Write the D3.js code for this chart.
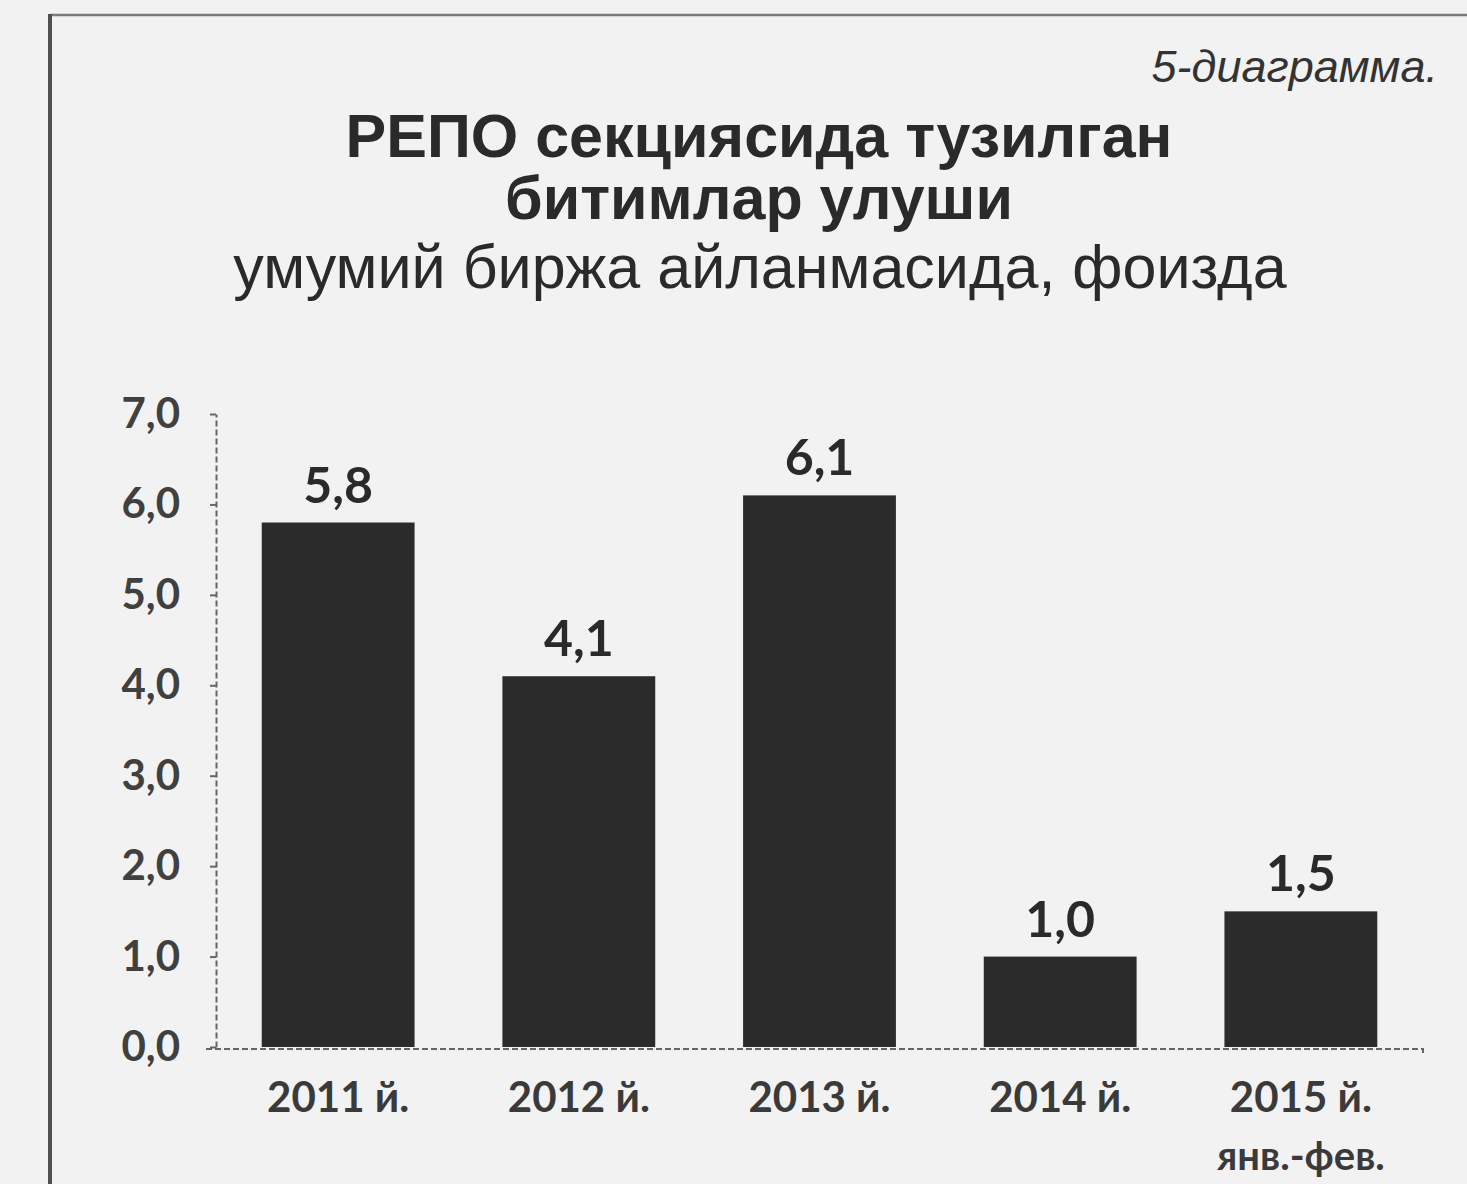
<!DOCTYPE html>
<html>
<head>
<meta charset="utf-8">
<script src="https://cdn.jsdelivr.net/npm/d3@7"></script>
<style>
  html, body { margin: 0; padding: 0; background: #f2f2f2; }
  svg { display: block; }
</style>
</head>
<body>
<svg id="chart" width="1467" height="1184"></svg>
<script>
// ---- data ----
const categories = ["2011 й.", "2012 й.", "2013 й.", "2014 й.", "2015 й."];
const subLabels = ["", "", "", "", "янв.-фев."];
const values = [5.8, 4.1, 6.1, 1.0, 1.5];
const yTicks = [0, 1, 2, 3, 4, 5, 6, 7];
const diagramLabel = "5-диаграмма.";
const titleBold = ["РЕПО секциясида тузилган", "битимлар улуши"];
const subtitle = "умумий биржа айланмасида, фоизда";

// ---- setup ----
const W = 1467, H = 1184;
const svg = d3.select("#chart");
const locale = d3.formatLocale({decimal: ",", thousands: " ", grouping: [3], currency: ["", ""]});
const fmt = locale.format(".1f");

svg.append("rect").attr("width", W).attr("height", H).attr("fill", "#f2f2f2");

// frame
svg.append("line").attr("x1", 50).attr("y1", 15).attr("x2", W).attr("y2", 15)
  .attr("stroke", "#7a7a7a").attr("stroke-width", 2.5);
svg.append("line").attr("x1", 50).attr("y1", 14).attr("x2", 50).attr("y2", H)
  .attr("stroke", "#505050").attr("stroke-width", 4);

const x = d3.scaleBand().domain(categories).range([216, 1423]).paddingInner(0.365).paddingOuter(0.19);
const y = d3.scaleLinear().domain([0, 7]).range([1047, 414]);

// titles
const sans = "'Liberation Sans', Arial, sans-serif";
svg.append("text")
  .attr("x", 1438).attr("y", 82).attr("text-anchor", "end")
  .attr("font-family", sans).attr("font-style", "italic").attr("font-size", 45)
  .attr("fill", "#333").text(diagramLabel);

const titleY = [157, 219];
titleBold.forEach((t, i) => {
  svg.append("text")
    .attr("x", 759).attr("y", titleY[i]).attr("text-anchor", "middle")
    .attr("font-family", sans).attr("font-weight", "bold").attr("font-size", 61)
    .attr("fill", "#2a2a2a").text(t);
});
svg.append("text")
  .attr("x", 760).attr("y", 288).attr("text-anchor", "middle")
  .attr("font-family", sans).attr("font-size", 61)
  .attr("fill", "#2a2a2a").text(subtitle);

// y axis
const lab = "Lato, 'Open Sans', sans-serif";
const yAxis = svg.append("g").attr("transform", "translate(216,0)")
  .call(d3.axisLeft(y).tickValues(yTicks).tickFormat(fmt).tickSize(6).tickSizeOuter(0).tickPadding(30));
yAxis.select(".domain").attr("stroke", "#666").attr("stroke-width", 2).attr("stroke-dasharray", "6,3");
yAxis.selectAll(".tick line").attr("stroke", "#666").attr("stroke-width", 2);
yAxis.selectAll(".tick text")
  .attr("font-family", lab).attr("font-weight", "bold").attr("font-size", 42)
  .attr("fill", "#404040");

// bars
svg.append("g").selectAll("rect").data(values).join("rect")
  .attr("x", (d, i) => x(categories[i]))
  .attr("y", d => y(d))
  .attr("width", x.bandwidth())
  .attr("height", d => y(0) - y(d))
  .attr("fill", "#2b2b2b");

// value labels
svg.append("g").selectAll("text").data(values).join("text")
  .attr("x", (d, i) => x(categories[i]) + x.bandwidth() / 2)
  .attr("y", d => y(d) - 20)
  .attr("text-anchor", "middle")
  .attr("font-family", lab).attr("font-weight", "bold").attr("font-size", 50)
  .attr("fill", "#2a2a2a")
  .text(d => fmt(d));

// x axis
const xAxis = svg.append("g").attr("transform", `translate(0,${y(0) + 2})`)
  .call(d3.axisBottom(x).tickSize(0).tickSizeOuter(0));
xAxis.select(".domain")
  .attr("d", `M206,0 H1423 V6`)
  .attr("stroke", "#666").attr("stroke-width", 2).attr("stroke-dasharray", "6,3");
xAxis.selectAll(".tick text")
  .attr("y", 63).attr("dy", null)
  .attr("font-family", lab).attr("font-weight", "bold").attr("font-size", 42)
  .attr("fill", "#3a3a3a");
xAxis.selectAll(".tick").each(function(d, i) {
  if (subLabels[i]) {
    d3.select(this).append("text")
      .attr("y", 121).attr("text-anchor", "middle")
      .attr("font-family", lab).attr("font-weight", "bold").attr("font-size", 40)
      .attr("fill", "#3a3a3a").text(subLabels[i]);
  }
});
</script>
</body>
</html>
